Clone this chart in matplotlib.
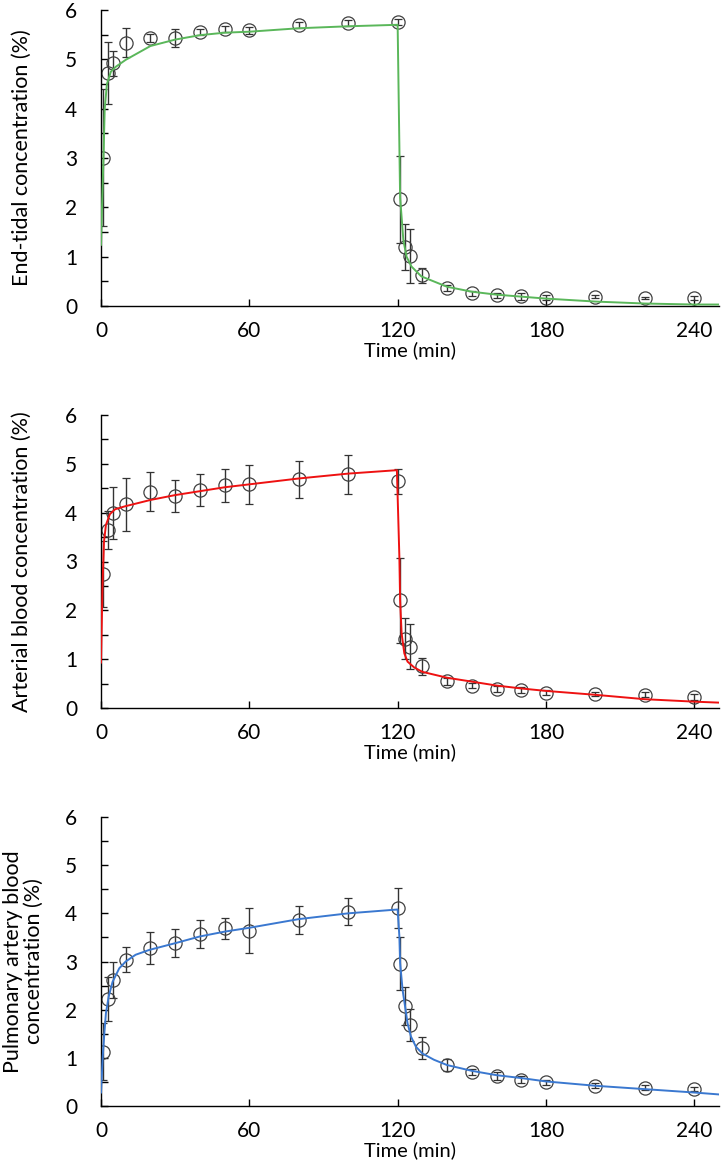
import matplotlib
matplotlib.use("Agg")
import matplotlib.pyplot as plt
from matplotlib.ticker import MultipleLocator

plt.rcParams['font.family'] = ['Lato', 'DejaVu Sans']

# Observed sampling times (min)
t_obs = [1, 3, 5, 10, 20, 30, 40, 50, 60, 80, 100, 120,
         121, 123, 125, 130, 140, 150, 160, 170, 180, 200, 220, 240]

# End-tidal concentration (%)
et_mean = [3.01, 4.73, 4.92, 5.34, 5.44, 5.43, 5.55, 5.61, 5.59, 5.70, 5.73, 5.76,
           2.16, 1.20, 1.02, 0.62, 0.36, 0.26, 0.22, 0.20, 0.17, 0.19, 0.17, 0.16]
et_sd = [1.38, 0.63, 0.25, 0.29, 0.08, 0.18, 0.06, 0.06, 0.07, 0.06, 0.06, 0.06,
         0.89, 0.47, 0.55, 0.16, 0.06, 0.05, 0.05, 0.07, 0.05, 0.03, 0.02, 0.04]
et_fit_t = [0, 0.4, 1.0, 1.5, 2.4, 4, 6, 10, 20, 30, 40, 50, 60, 80, 100, 120,
            121, 122.3, 123.6, 125.6, 129.6, 140, 150, 160, 170, 180, 200, 220, 240, 250]
et_fit = [1.24, 2.0, 3.0, 4.0, 4.5, 4.75, 4.85, 4.99, 5.27, 5.40, 5.49, 5.54, 5.56, 5.63, 5.67, 5.70,
          2.2, 1.34, 1.0, 0.8, 0.6, 0.39, 0.29, 0.23, 0.19, 0.15, 0.09, 0.05, 0.03, 0.03]

# Arterial blood concentration (%)
art_mean = [2.75, 3.64, 4.00, 4.17, 4.43, 4.34, 4.47, 4.56, 4.58, 4.68, 4.79, 4.64,
            2.21, 1.42, 1.25, 0.85, 0.55, 0.46, 0.39, 0.37, 0.31, 0.28, 0.27, 0.23]
art_sd = [0.68, 0.39, 0.53, 0.54, 0.40, 0.32, 0.33, 0.34, 0.40, 0.38, 0.40, 0.26,
          0.87, 0.42, 0.46, 0.17, 0.07, 0.06, 0.07, 0.06, 0.05, 0.04, 0.05, 0.06]
art_fit_t = [0, 0.6, 1.2, 2, 3.6, 5.7, 9.7, 20, 30, 40, 50, 60, 80, 100, 119.7,
             120.7, 121, 121.6, 122.7, 124, 126.7, 130, 140, 150, 160, 170, 180, 200, 220, 240, 250]
art_fit = [0.93, 2.5, 3.4, 3.75, 3.97, 4.07, 4.13, 4.26, 4.36, 4.44, 4.52, 4.58, 4.70, 4.80, 4.87,
           3.09, 2.21, 1.53, 1.12, 0.95, 0.83, 0.74, 0.62, 0.54, 0.46, 0.40, 0.35, 0.27, 0.18, 0.13, 0.11]

# Pulmonary artery blood concentration (%)
pa_mean = [1.13, 2.22, 2.62, 3.04, 3.28, 3.38, 3.58, 3.69, 3.64, 3.87, 4.03, 4.11,
           2.95, 2.08, 1.68, 1.21, 0.85, 0.71, 0.62, 0.55, 0.49, 0.42, 0.38, 0.35]
pa_sd = [0.60, 0.45, 0.38, 0.26, 0.33, 0.29, 0.29, 0.22, 0.47, 0.29, 0.28, 0.41,
         0.55, 0.39, 0.33, 0.23, 0.13, 0.06, 0.08, 0.07, 0.06, 0.05, 0.05, 0.04]
pa_fit_t = [0, 0.7, 1.35, 2, 3.1, 4.7, 7.4, 10, 14, 19.5, 30, 40, 50, 60, 80, 100, 120,
            120.7, 121, 122, 123, 124, 125.4, 127.4, 130, 134.7, 140, 150, 160, 170, 180, 200, 220, 240, 250]
pa_fit = [0.28, 1.03, 1.51, 1.93, 2.27, 2.58, 2.86, 3.0, 3.14, 3.24, 3.38, 3.52, 3.62, 3.70, 3.88, 4.0, 4.08,
          3.52, 2.97, 2.41, 2.07, 1.72, 1.44, 1.23, 1.09, 0.96, 0.85, 0.73, 0.64, 0.58, 0.51, 0.42, 0.35, 0.28, 0.24]

x_ticks = [0, 60, 120, 180, 240]
y_ticks = [0, 1, 2, 3, 4, 5, 6]

panels = [
    (et_mean, et_sd, et_fit_t, et_fit, '#5ab75a', 'End-tidal concentration (%)', -0.112),
    (art_mean, art_sd, art_fit_t, art_fit, '#ee1111', 'Arterial blood concentration (%)', -0.112),
    (pa_mean, pa_sd, pa_fit_t, pa_fit, '#3a78d0', 'Pulmonary artery blood\nconcentration (%)', -0.092),
]

rects = [
    [101/725, 1 - 306/1173, 618/725, 296/1173],
    [101/725, 1 - 708/1173, 618/725, 293/1173],
    [101/725, 1 - 1106/1173, 618/725, 289/1173],
]

fig = plt.figure(figsize=(7.25, 11.73), dpi=100)
for (mean, sd, ft, fv, col, ylab, lx), rect in zip(panels, rects):
    ax = fig.add_axes(rect)
    ax.errorbar(t_obs, mean, yerr=sd, fmt='o', ms=9.5, mfc='none', mec='#404040', mew=0.9,
                ecolor='#333333', elinewidth=1.0, capsize=3.2, capthick=1.0, zorder=2)
    ax.plot(ft, fv, color=col, lw=1.4, zorder=3)
    ax.set_xlim(0, 250)
    ax.set_ylim(0, 6)
    ax.set_xticks(x_ticks)
    ax.set_yticks(y_ticks)
    ax.yaxis.set_minor_locator(MultipleLocator(0.5))
    ax.tick_params(axis='both', which='both', direction='in', width=1.0, color='black')
    ax.tick_params(axis='both', which='major', length=5)
    ax.tick_params(axis='y', which='minor', length=5)
    ax.tick_params(axis='x', which='major', pad=11, labelsize=15)
    ax.tick_params(axis='y', which='major', pad=17, labelsize=15)
    for s in ['top', 'right']:
        ax.spines[s].set_visible(False)
    for s in ['left', 'bottom']:
        ax.spines[s].set_linewidth(1.0)
        ax.spines[s].set_color('black')
    ax.set_xlabel('Time (min)', fontsize=14.5, labelpad=0)
    ax.set_ylabel(ylab, fontsize=15.5, linespacing=1.05)
    ax.yaxis.set_label_coords(lx, 0.5)

fig.savefig('out.png', dpi=100)
